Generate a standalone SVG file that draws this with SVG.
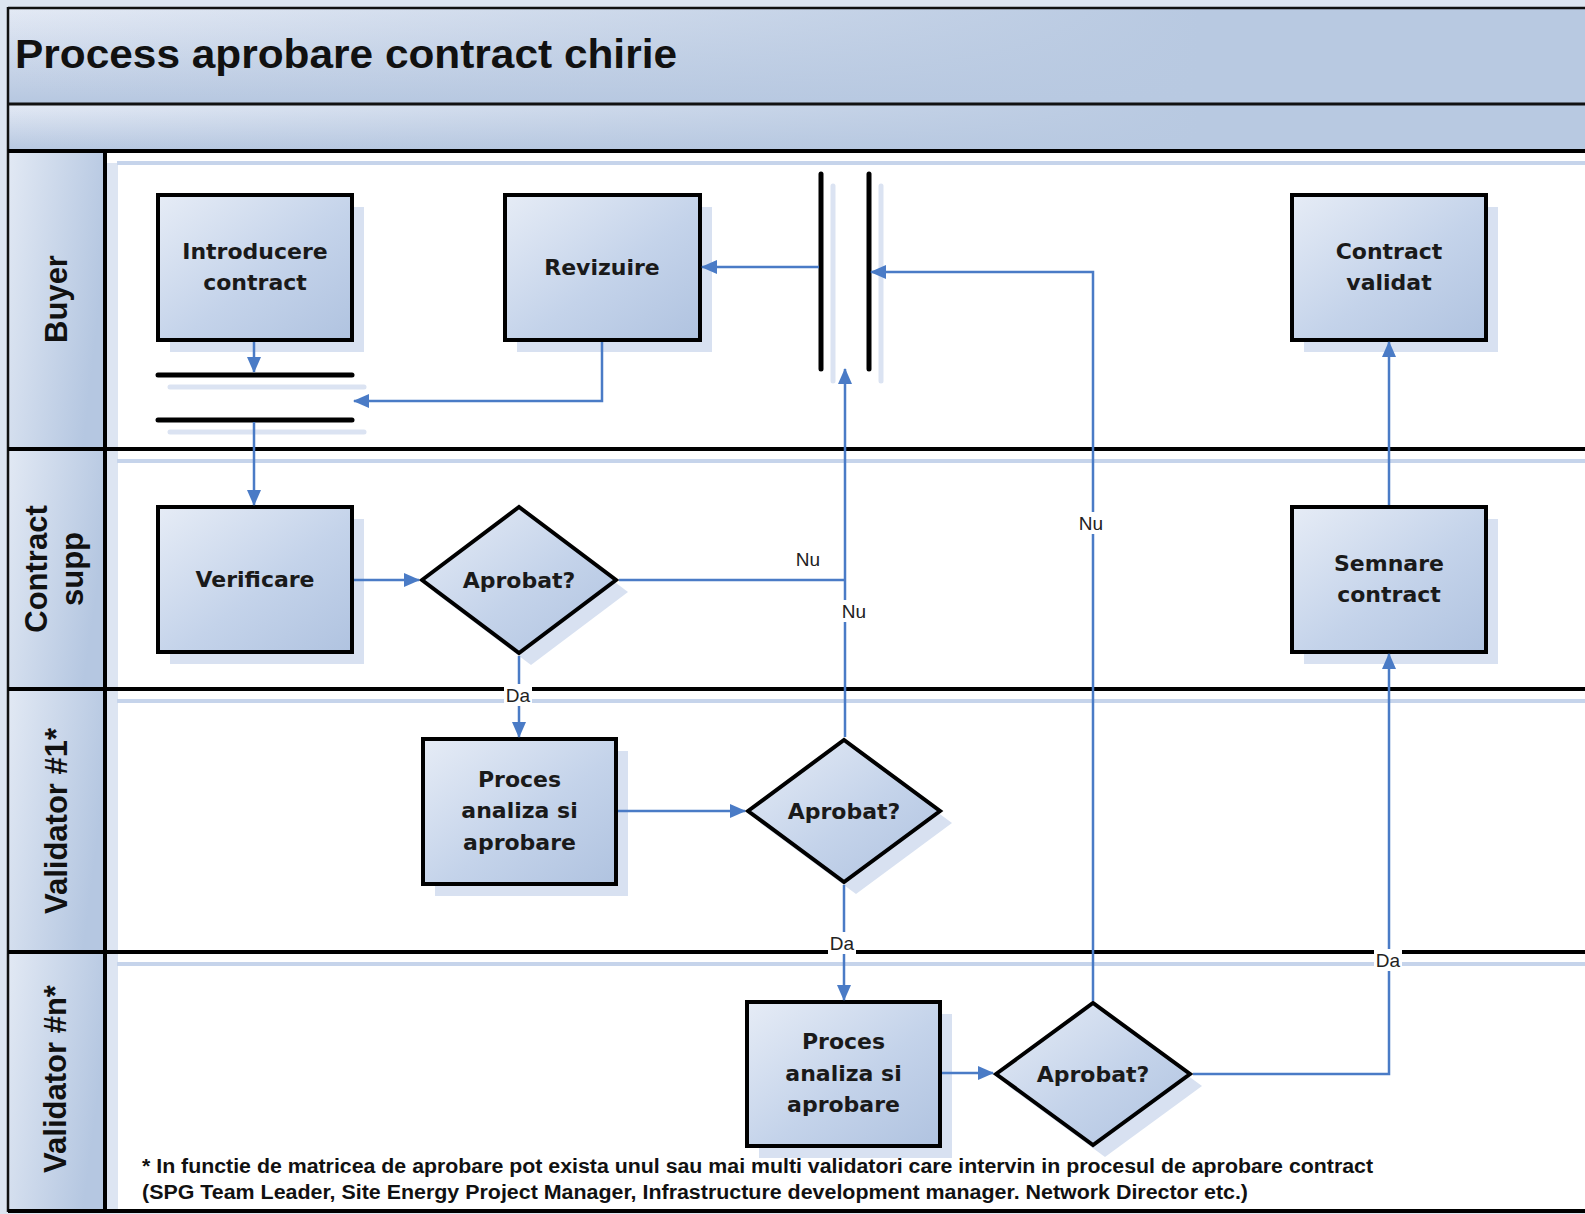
<svg xmlns="http://www.w3.org/2000/svg" width="1585" height="1214" viewBox="0 0 1585 1214">
<defs>
<linearGradient id="gNode" x1="0" y1="0" x2="1" y2="1"><stop offset="0" stop-color="#e6ecf6"/><stop offset="0.55" stop-color="#c4d3ea"/><stop offset="1" stop-color="#b0c3e0"/></linearGradient>
<linearGradient id="gHead" x1="0" y1="0" x2="1" y2="0.35"><stop offset="0" stop-color="#e2e9f4"/><stop offset="1" stop-color="#b5c7e1"/></linearGradient>
<linearGradient id="gBandV" x1="0" y1="0" x2="0" y2="1"><stop offset="0" stop-color="#e4eaf5"/><stop offset="1" stop-color="#b6c7e0"/></linearGradient>
<linearGradient id="gBandH" gradientUnits="userSpaceOnUse" x1="0" y1="0" x2="1200" y2="0"><stop offset="0" stop-color="#b8c9e1" stop-opacity="0"/><stop offset="1" stop-color="#b8c9e1" stop-opacity="1"/></linearGradient>
<marker id="ah" viewBox="0 0 16 14" refX="15" refY="7" markerWidth="16" markerHeight="14" markerUnits="userSpaceOnUse" orient="auto"><path d="M0,0 L16,7 L0,14 z" fill="#4a7bc6"/></marker>
<style>
.box{fill:url(#gNode);stroke:#000;stroke-width:4;stroke-linejoin:miter}
.sh{fill:#d8e1f1}
.shl{stroke:#dbe3f2;stroke-width:5;fill:none;stroke-linecap:round}
.bar{stroke:#000;stroke-width:5;stroke-linecap:round;fill:none}
.nt{font-family:"DejaVu Sans",Verdana,sans-serif;font-weight:bold;font-size:22px;fill:#1a1a1a;text-anchor:middle}
.lt{font-family:"Liberation Sans",Arial,sans-serif;font-weight:bold;font-size:31px;fill:#111;text-anchor:middle}
.cl{fill:none;stroke:#4a7bc6;stroke-width:2.5}
.ca{fill:none;stroke:#4a7bc6;stroke-width:2.5;marker-end:url(#ah)}
.lb{font-family:"Liberation Sans",Arial,sans-serif;font-size:19px;fill:#222;text-anchor:middle}
.lbg{fill:#fff}
.ln{stroke:#000;stroke-width:4}
.lns{stroke:#c6d4eb;stroke-width:4}
</style>
</defs>
<rect x="0" y="0" width="1585" height="1214" fill="#dde5f1"/>
<g id="frame">
<rect x="8" y="8" width="1600" height="96" fill="url(#gBandV)"/>
<rect x="8" y="8" width="1600" height="96" fill="url(#gBandH)"/>
<rect x="8" y="104" width="1600" height="47" fill="url(#gBandV)"/>
<rect x="8" y="104" width="1600" height="47" fill="url(#gBandH)"/>
<rect x="105" y="151" width="1500" height="1060" fill="#fff"/>
<rect x="107" y="163" width="11" height="1048" fill="#dde5f2"/>
<rect x="8" y="151" width="97" height="298" fill="url(#gHead)"/>
<rect x="8" y="449" width="97" height="240" fill="url(#gHead)"/>
<rect x="8" y="689" width="97" height="263" fill="url(#gHead)"/>
<rect x="8" y="952" width="97" height="259" fill="url(#gHead)"/>
<line class="lns" x1="117" y1="163" x2="1585" y2="163"/>
<line class="lns" x1="117" y1="461" x2="1585" y2="461"/>
<line class="lns" x1="117" y1="701" x2="1585" y2="701"/>
<line class="lns" x1="117" y1="964" x2="1585" y2="964"/>
<line x1="8" y1="8" x2="1585" y2="8" stroke="#111" stroke-width="2.5"/>
<line x1="8" y1="104" x2="1585" y2="104" stroke="#111" stroke-width="3"/>
<line x1="8" y1="7" x2="8" y2="1212" stroke="#111" stroke-width="2.5"/>
<line class="ln" x1="8" y1="151" x2="1585" y2="151"/>
<line class="ln" x1="8" y1="449" x2="1585" y2="449"/>
<line class="ln" x1="8" y1="689" x2="1585" y2="689"/>
<line class="ln" x1="8" y1="952" x2="1585" y2="952"/>
<line class="ln" x1="8" y1="1211" x2="1585" y2="1211"/>
<line class="ln" x1="105" y1="151" x2="105" y2="1211"/>
<text x="15" y="68" font-family="'Liberation Sans',Arial,sans-serif" font-weight="bold" font-size="40" fill="#111" textLength="662" lengthAdjust="spacingAndGlyphs">Process aprobare contract chirie</text>
</g>
<g id="lane-buyer"><text class="lt" transform="translate(67,299) rotate(-90)">Buyer</text></g>
<g id="lane-contract-supp"><text class="lt" transform="translate(47,569) rotate(-90)"><tspan x="0" y="0">Contract</tspan><tspan x="0" y="36">supp</tspan></text></g>
<g id="lane-validator1"><text class="lt" transform="translate(67,821) rotate(-90)">Validator #1*</text></g>
<g id="lane-validatorn"><text class="lt" transform="translate(66,1079) rotate(-90)">Validator #n*</text></g>

<g id="n-introducere"><rect class="sh" x="170" y="207" width="194" height="145"/><rect class="box" x="158" y="195" width="194" height="145"/><text class="nt" x="255" y="259">Introducere</text><text class="nt" x="255" y="290">contract</text></g>
<g id="n-revizuire"><rect class="sh" x="517" y="207" width="195" height="145"/><rect class="box" x="505" y="195" width="195" height="145"/><text class="nt" x="602" y="275">Revizuire</text></g>
<g id="n-contract-validat"><rect class="sh" x="1304" y="207" width="194" height="145"/><rect class="box" x="1292" y="195" width="194" height="145"/><text class="nt" x="1389" y="259">Contract</text><text class="nt" x="1389" y="290">validat</text></g>
<g id="n-verificare"><rect class="sh" x="170" y="519" width="194" height="145"/><rect class="box" x="158" y="507" width="194" height="145"/><text class="nt" x="255" y="587">Verificare</text></g>
<g id="n-semnare"><rect class="sh" x="1304" y="519" width="194" height="145"/><rect class="box" x="1292" y="507" width="194" height="145"/><text class="nt" x="1389" y="571">Semnare</text><text class="nt" x="1389" y="602">contract</text></g>
<g id="n-proces1"><rect class="sh" x="435" y="751" width="193" height="145"/><rect class="box" x="423" y="739" width="193" height="145"/><text class="nt" x="519.5" y="787">Proces</text><text class="nt" x="519.5" y="818">analiza si</text><text class="nt" x="519.5" y="850">aprobare</text></g>
<g id="n-procesn"><rect class="sh" x="759" y="1014" width="193" height="144"/><rect class="box" x="747" y="1002" width="193" height="144"/><text class="nt" x="843.5" y="1049">Proces</text><text class="nt" x="843.5" y="1081">analiza si</text><text class="nt" x="843.5" y="1112">aprobare</text></g>
<g id="d-aprobat1"><polygon class="sh" points="434,592 531,519 628,592 531,665"/><polygon class="box" points="422,580 519,507 616,580 519,653"/><text class="nt" x="519" y="588">Aprobat?</text></g>
<g id="d-aprobat2"><polygon class="sh" points="760,823 856,752 952,823 856,894"/><polygon class="box" points="748,811 844,740 940,811 844,882"/><text class="nt" x="844" y="819">Aprobat?</text></g>
<g id="d-aprobatn"><polygon class="sh" points="1008,1086 1105,1015 1202,1086 1105,1157"/><polygon class="box" points="996,1074 1093,1003 1190,1074 1093,1145"/><text class="nt" x="1093" y="1082">Aprobat?</text></g>
<g id="sync-h"><line class="shl" x1="170" y1="387" x2="364" y2="387"/><line class="shl" x1="170" y1="432" x2="364" y2="432"/><line class="bar" x1="158" y1="375" x2="352" y2="375"/><line class="bar" x1="158" y1="420" x2="352" y2="420"/></g>
<g id="sync-v"><line class="shl" x1="833" y1="186" x2="833" y2="381"/><line class="shl" x1="881" y1="186" x2="881" y2="381"/><line class="bar" x1="821" y1="174" x2="821" y2="369"/><line class="bar" x1="869" y1="174" x2="869" y2="369"/></g>

<g id="connectors">
<path class="ca" d="M254,342 L254,372"/>
<path class="ca" d="M254,422 L254,505"/>
<path class="ca" d="M602,342 L602,401 L354,401"/>
<path class="ca" d="M819,267 L702,267"/>
<path class="ca" d="M1093,1001 L1093,272 L871,272"/>
<path class="ca" d="M354,580 L419,580"/>
<path class="cl" d="M619,580 L845,580"/>
<path class="ca" d="M845,737 L845,369"/>
<path class="ca" d="M519,656 L519,737"/>
<path class="ca" d="M618,811 L745,811"/>
<path class="ca" d="M844,885 L844,1000"/>
<path class="ca" d="M942,1073 L993,1073"/>
<path class="ca" d="M1193,1074 L1389,1074 L1389,654"/>
<path class="ca" d="M1389,505 L1389,342"/>
<text class="lb" x="808" y="566">Nu</text>
<rect class="lbg" x="840" y="600" width="28" height="22"/><text class="lb" x="854" y="618">Nu</text>
<rect class="lbg" x="1077" y="512" width="28" height="22"/><text class="lb" x="1091" y="530">Nu</text>
<rect class="lbg" x="504" y="684" width="28" height="22"/><text class="lb" x="518" y="702">Da</text>
<rect class="lbg" x="828" y="932" width="28" height="22"/><text class="lb" x="842" y="950">Da</text>
<rect class="lbg" x="1374" y="949" width="28" height="22"/><text class="lb" x="1388" y="967">Da</text>
</g>
<g id="footnote">
<text x="142" y="1173" font-family="'Liberation Sans',Arial,sans-serif" font-weight="bold" font-size="20" fill="#111" textLength="1231" lengthAdjust="spacingAndGlyphs">* In functie de matricea de aprobare pot exista unul sau mai multi validatori care intervin in procesul de aprobare contract</text>
<text x="142" y="1199" font-family="'Liberation Sans',Arial,sans-serif" font-weight="bold" font-size="20" fill="#111" textLength="1106" lengthAdjust="spacingAndGlyphs">(SPG Team Leader, Site Energy Project Manager, Infrastructure development manager. Network Director etc.)</text>
</g>
</svg>
